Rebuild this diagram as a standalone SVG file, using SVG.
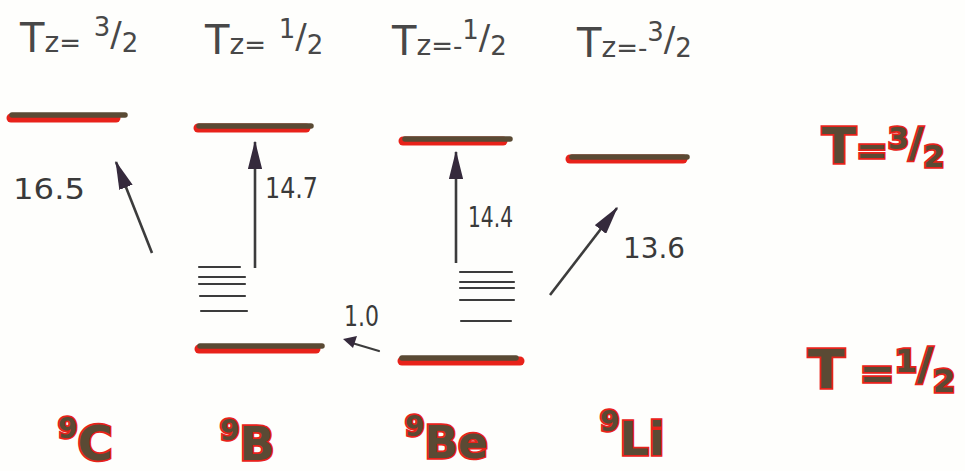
<svg xmlns="http://www.w3.org/2000/svg" width="965" height="471" viewBox="0 0 965 471">
<defs>
<marker id="ah" viewBox="0 0 20 10" refX="19" refY="5" markerWidth="11" markerHeight="5.5" markerUnits="strokeWidth" orient="auto">
<path d="M0,0 L20,5 L0,10 Z" fill="#352a3c"/>
</marker>
</defs>
<style>
.red{stroke:#e8221a;stroke-width:9;stroke-linecap:round;fill:none}
.core{stroke:#5a4a34;stroke-width:5.5;stroke-linecap:round;fill:none}
.thin{stroke:#3c3c3c;stroke-width:2.2;stroke-linecap:round;fill:none}
.arr{stroke:#3c3c3c;stroke-width:2.6;fill:none;marker-end:url(#ah)}
.num{font-family:"DejaVu Sans","Liberation Sans",sans-serif;font-size:29px;fill:#3a3a3a}
.tz{font-family:"DejaVu Sans","Liberation Sans",sans-serif;font-size:40px;fill:#484848}
.big{font-family:"DejaVu Sans","Liberation Sans",sans-serif;font-weight:bold;fill:#5a4a34;stroke:#e8221a;stroke-width:3.5;paint-order:stroke}
</style>
<rect width="965" height="471" fill="#fefefc"/>

<g id="header-tz32"><text class="tz" x="20" y="52">T<tspan font-size="28">z</tspan><tspan font-size="26">=</tspan> <tspan dy="-16" font-size="26">3</tspan><tspan dy="10" font-size="34">/</tspan><tspan dy="6" font-size="26">2</tspan></text></g>
<g id="header-tz12"><text class="tz" x="205" y="54">T<tspan font-size="28">z</tspan><tspan font-size="26">=</tspan> <tspan dy="-16" font-size="26">1</tspan><tspan dy="10" font-size="34">/</tspan><tspan dy="6" font-size="26">2</tspan></text></g>
<g id="header-tzm12"><text class="tz" x="392" y="55">T<tspan font-size="28">z</tspan><tspan font-size="26">=-</tspan><tspan dy="-16" font-size="26">1</tspan><tspan dy="10" font-size="34">/</tspan><tspan dy="6" font-size="26">2</tspan></text></g>
<g id="header-tzm32"><text class="tz" x="577" y="57">T<tspan font-size="28">z</tspan><tspan font-size="26">=-</tspan><tspan dy="-16" font-size="26">3</tspan><tspan dy="10" font-size="34">/</tspan><tspan dy="6" font-size="26">2</tspan></text></g>

<g id="C9-level">
<line class="red" x1="11" y1="118" x2="116" y2="118"/>
<line class="core" x1="12" y1="115" x2="125" y2="115"/>
</g>
<g id="B9-levels">
<line class="red" x1="198" y1="128" x2="306" y2="128"/>
<line class="core" x1="199" y1="126" x2="311" y2="126"/>
<line class="red" x1="199" y1="349" x2="316" y2="349"/>
<line class="core" x1="200" y1="346" x2="322" y2="346"/>
<line class="thin" x1="199" y1="267" x2="240" y2="267"/>
<line class="thin" x1="199" y1="277" x2="245" y2="277"/>
<line class="thin" x1="199" y1="284" x2="245" y2="284"/>
<line class="thin" x1="200" y1="296" x2="245" y2="296"/>
<line class="thin" x1="201" y1="311" x2="247" y2="311"/>
</g>
<g id="Be9-levels">
<line class="red" x1="403" y1="141" x2="503" y2="141"/>
<line class="core" x1="405" y1="139" x2="510" y2="139"/>
<line class="red" x1="402" y1="361" x2="520" y2="361"/>
<line class="core" x1="402" y1="358" x2="516" y2="358"/>
<line class="thin" x1="460" y1="272" x2="512" y2="272"/>
<line class="thin" x1="460" y1="282" x2="514" y2="282"/>
<line class="thin" x1="460" y1="288" x2="514" y2="288"/>
<line class="thin" x1="460" y1="300" x2="514" y2="300"/>
<line class="thin" x1="461" y1="321" x2="511" y2="321"/>
</g>
<g id="Li9-level">
<line class="red" x1="570" y1="159" x2="683" y2="159"/>
<line class="core" x1="572" y1="157" x2="687" y2="157"/>
</g>

<g id="connectors">
<line class="arr" x1="152" y1="253" x2="116" y2="162"/>
<line class="arr" x1="255" y1="268" x2="255" y2="142"/>
<line class="arr" x1="456" y1="263" x2="456" y2="152"/>
<line class="arr" x1="550" y1="295" x2="617" y2="208"/>
<line class="thin" x1="379" y1="351" x2="352" y2="343" stroke-width="2.5"/>
<path d="M343,339 L357,336 L353,348 Z" fill="#352a3c"/>
</g>

<g id="energy-labels">
<text class="num" x="13" y="199" textLength="72" lengthAdjust="spacingAndGlyphs">16.5</text>
<text class="num" x="265" y="198" font-size="27" textLength="53" lengthAdjust="spacingAndGlyphs">14.7</text>
<text class="num" x="468" y="227" font-size="28" textLength="45" lengthAdjust="spacingAndGlyphs">14.4</text>
<text class="num" x="623" y="258" textLength="62" lengthAdjust="spacingAndGlyphs">13.6</text>
<text class="num" x="344" y="326" font-size="22" textLength="35" lengthAdjust="spacingAndGlyphs">1.0</text>
</g>

<g id="isospin-T32"><text class="big" x="822" y="163" font-size="50">T<tspan font-size="38">=</tspan><tspan dy="-14" font-size="30">3</tspan><tspan dy="8" font-size="40">/</tspan><tspan dy="10" font-size="30">2</tspan></text></g>
<g id="isospin-T12"><text class="big" x="808" y="388" font-size="54">T<tspan font-size="42"> =</tspan><tspan dy="-16" font-size="32">1</tspan><tspan dy="8" font-size="44">/</tspan><tspan dy="12" font-size="32">2</tspan></text></g>

<g id="nuclide-C9"><text class="big" x="58" y="460" font-size="48"><tspan dy="-22" font-size="28">9</tspan><tspan dy="22">C</tspan></text></g>
<g id="nuclide-B9"><text class="big" x="220" y="460" font-size="46"><tspan dy="-20" font-size="28">9</tspan><tspan dy="20">B</tspan></text></g>
<g id="nuclide-Be9"><text class="big" x="405" y="458" font-size="44"><tspan dy="-22" font-size="28">9</tspan><tspan dy="22">Be</tspan></text></g>
<g id="nuclide-Li9"><text class="big" x="600" y="455" font-size="46"><tspan dy="-24" font-size="28">9</tspan><tspan dy="24">Li</tspan></text></g>
</svg>
